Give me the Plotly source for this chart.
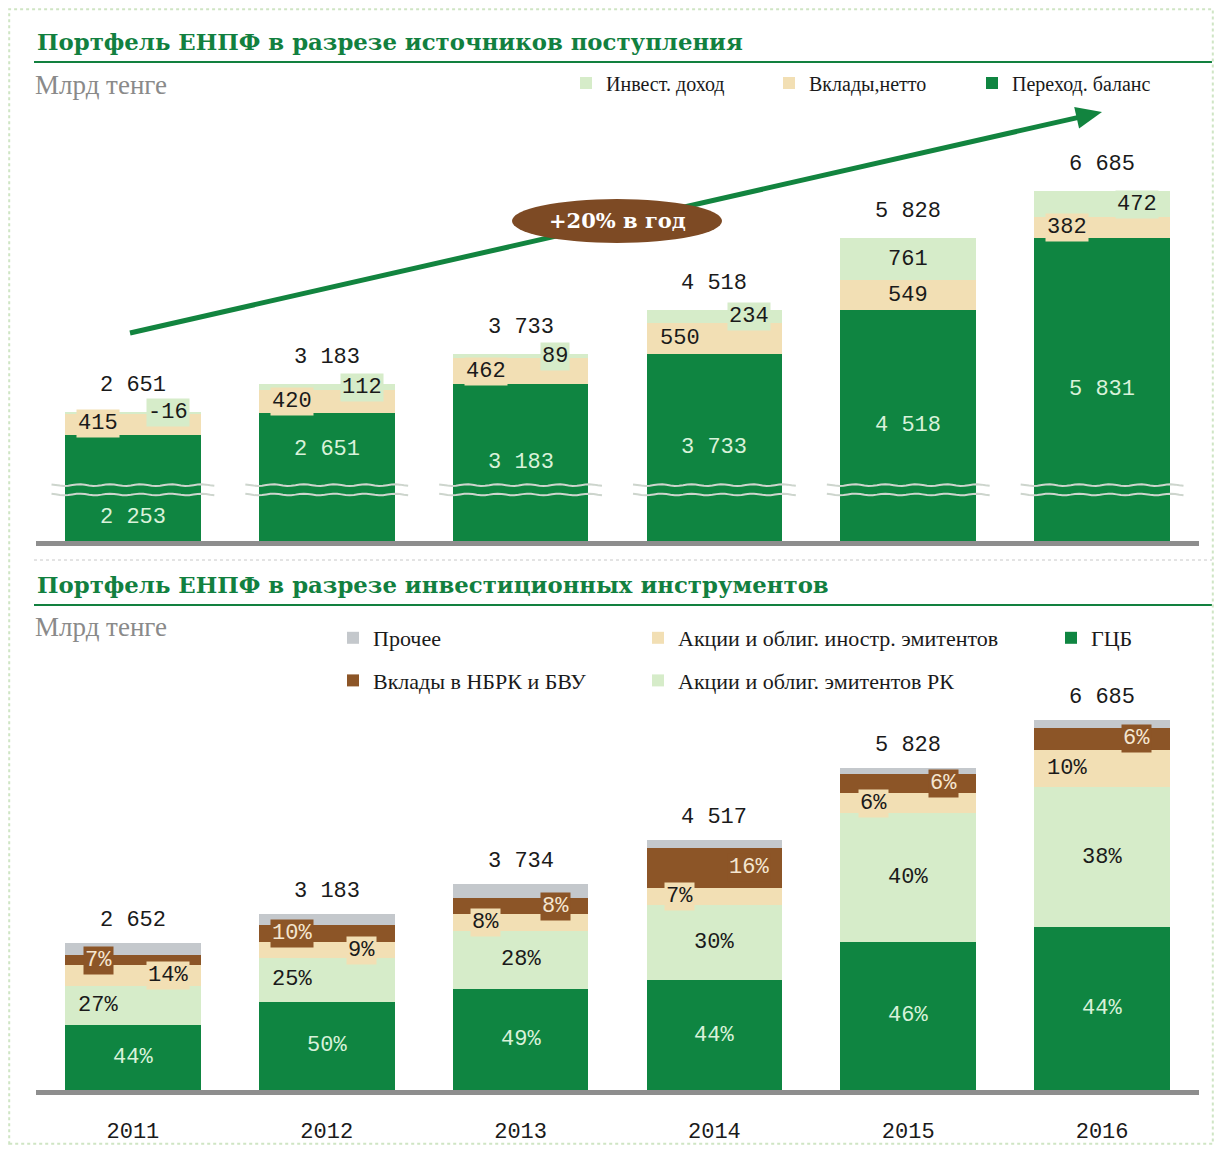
import plotly.graph_objects as go
import numpy as np

# ---------------- DATA ----------------
years = [2011, 2012, 2013, 2014, 2015, 2016]
year_labels = ["2011", "2012", "2013", "2014", "2015", "2016"]

# Top chart: portfolio by source (bn tenge)
carry_balance = [2253, 2651, 3183, 3733, 4518, 5831]   # Переход. баланс
net_contrib = [415, 420, 462, 550, 549, 382]           # Вклады, нетто
invest_income = [-16, 112, 89, 234, 761, 472]          # Инвест. доход
top_totals = [2651, 3183, 3733, 4518, 5828, 6685]

# Bottom chart: portfolio by instrument (share, %)
bottom_totals = [2652, 3183, 3734, 4517, 5828, 6685]
pct_gcb = [44, 50, 49, 44, 46, 44]          # ГЦБ
pct_rk = [27, 25, 28, 30, 40, 38]           # Акции и облиг. эмитентов РК
pct_foreign = [14, 9, 8, 7, 6, 10]          # Акции и облиг. иностр. эмитентов
pct_deposits = [7, 10, 8, 16, 6, 6]         # Вклады в НБРК и БВУ
pct_other = [8, 6, 7, 3, 2, 2]              # Прочее

# ---------------- STYLE ----------------
OFF = 8                       # browser body margin
W, H = 1222 - 2 * OFF, 1153 - 2 * OFF
C_GREEN = "#0f8541"
C_BEIGE = "#f2dfb4"
C_LGREEN = "#d6ecc9"
C_BROWN = "#8c5527"
C_GRAY = "#c4c8cc"
C_TITLE = "#12803f"
C_ARROW = "#12843f"
NUM_FONT = "Liberation Mono"
SERIF = "Liberation Serif"
NUM_SIZE = 22

# label horizontal placement (-1 left, 0 centre, 1 right)
side_net = [-1, -1, -1, -1, 0, -1]
side_inv = [1, 1, 1, 1, 0, 1]
side_rk = [-1, -1, 0, 0, 0, 0]
side_for = [1, 1, -1, -1, -1, -1]
side_dep = [-1, -1, 1, 1, 1, 1]
OFFS = 0.18


def py(pix):
    return 1 - (pix - OFF) / H


def px(pix):
    return (pix - OFF) / W


TOP_DOM = [py(541), py(100)]
BOT_DOM = [py(1090), py(690)]
X_DOM = [px(36), px(1199)]
TOP_RANGE = [330, 8340]
BOT_RANGE = [0, 7233]
BREAK_LO, BREAK_HI = 1175, 1345   # axis-break marks on the top chart

fig = go.Figure()

# ---- top bars ----
for name, vals, col, rank in [("Переход. баланс", carry_balance, C_GREEN, 3),
                              ("Вклады,нетто", net_contrib, C_BEIGE, 2),
                              ("Инвест. доход", invest_income, C_LGREEN, 1)]:
    fig.add_trace(go.Bar(x=years, y=vals, name=name, marker=dict(color=col, line=dict(width=0)),
                         width=0.7, xaxis="x", yaxis="y", legend="legend", legendrank=rank,
                         hoverinfo="x+y+name"))

# ---- bottom bars ----
bottom_series = [
    ("ГЦБ", pct_gcb, C_GREEN, "legend4", 1),
    ("Акции и облиг. эмитентов РК", pct_rk, C_LGREEN, "legend3", 2),
    ("Акции и облиг. иностр. эмитентов", pct_foreign, C_BEIGE, "legend3", 1),
    ("Вклады в НБРК и БВУ", pct_deposits, C_BROWN, "legend2", 2),
    ("Прочее", pct_other, C_GRAY, "legend2", 1),
]
bottom_abs = {}
for name, pct, col, leg, rank in bottom_series:
    vals = [t * p / 100 for t, p in zip(bottom_totals, pct)]
    bottom_abs[name] = vals
    fig.add_trace(go.Bar(x=years, y=vals, name=name, marker=dict(color=col, line=dict(width=0)),
                         width=0.7, xaxis="x2", yaxis="y2", legend=leg, legendrank=rank,
                         legendgroup=name, customdata=pct,
                         hovertemplate="%{x}: %{customdata}%<extra>" + name + "</extra>"))

ann = []


def fmt(v):
    s = f"{abs(v):,}".replace(",", " ")
    return ("-" if v < 0 else "") + s


# ---- top labels ----
for i, yr in enumerate(years):
    g, n, inv = carry_balance[i], net_contrib[i], invest_income[i]
    mid = (TOP_RANGE[0] + g) / 2
    if 1000 < mid < 1600:
        if g < 2500:
            mid = (TOP_RANGE[0] + BREAK_LO) / 2
        else:
            mid = (BREAK_HI + g) / 2
    ann.append(dict(x=yr, y=mid, xref="x", yref="y", text=fmt(g), showarrow=False,
                    font=dict(family=NUM_FONT, size=NUM_SIZE, color="#d9f2da")))
    ann.append(dict(x=yr + side_net[i] * OFFS, y=g + n / 2, xref="x", yref="y", text=fmt(n),
                    showarrow=False, bgcolor=C_BEIGE, borderpad=1,
                    font=dict(family=NUM_FONT, size=NUM_SIZE, color="#1a1a1a")))
    ann.append(dict(x=yr + side_inv[i] * OFFS, y=g + n + max(inv, 0) / 2,
                    xref="x", yref="y", text=fmt(inv), showarrow=False, bgcolor=C_LGREEN, borderpad=1,
                    font=dict(family=NUM_FONT, size=NUM_SIZE, color="#1a1a1a")))
    ann.append(dict(x=yr, y=max(g + n, g + n + inv), xref="x", yref="y", text=fmt(top_totals[i]),
                    showarrow=False, yanchor="bottom", yshift=12,
                    font=dict(family=NUM_FONT, size=NUM_SIZE, color="#1a1a1a")))

# ---- bottom labels ----
pcts = {"ГЦБ": pct_gcb, "Акции и облиг. эмитентов РК": pct_rk,
        "Акции и облиг. иностр. эмитентов": pct_foreign, "Вклады в НБРК и БВУ": pct_deposits}
for i, yr in enumerate(years):
    cum = 0
    layers = [("ГЦБ", 0, None, "#d9f2da"),
              ("Акции и облиг. эмитентов РК", side_rk[i], C_LGREEN, "#1a1a1a"),
              ("Акции и облиг. иностр. эмитентов", side_for[i], C_BEIGE, "#1a1a1a"),
              ("Вклады в НБРК и БВУ", side_dep[i], C_BROWN, "#f5e6d0")]
    for name, side, bg, fc in layers:
        v = bottom_abs[name][i]
        d = dict(x=yr + side * OFFS, y=cum + v / 2, xref="x2", yref="y2",
                 text=f"{pcts[name][i]}%", showarrow=False,
                 font=dict(family=NUM_FONT, size=NUM_SIZE, color=fc))
        if bg:
            d.update(bgcolor=bg, borderpad=1)
        ann.append(d)
        cum += v
    ann.append(dict(x=yr, y=bottom_totals[i], xref="x2", yref="y2", text=fmt(bottom_totals[i]),
                    showarrow=False, yanchor="bottom", yshift=8,
                    font=dict(family=NUM_FONT, size=NUM_SIZE, color="#1a1a1a")))

# ---- titles / units ----
for txt, ypix in [("Портфель ЕНПФ в разрезе источников поступления", 42),
                  ("Портфель ЕНПФ в разрезе инвестиционных инструментов", 585)]:
    ann.append(dict(x=px(35), y=py(ypix), xref="paper", yref="paper", text=f"<b>{txt}</b>",
                    showarrow=False, xanchor="left", yanchor="middle",
                    font=dict(family="DejaVu Serif", size=22.8, color=C_TITLE)))
for ypix in [85, 627]:
    ann.append(dict(x=px(33), y=py(ypix), xref="paper", yref="paper", text="Млрд тенге",
                    showarrow=False, xanchor="left", yanchor="middle",
                    font=dict(family=SERIF, size=27, color="#8a8a8a")))

# ---- growth label text ----
ann.append(dict(x=px(617), y=py(221), xref="paper", yref="paper", text="<b>+20% в год</b>",
                showarrow=False, xanchor="center", yanchor="middle",
                font=dict(family="DejaVu Serif", size=21, color="white")))

shapes = []
# growth arrow (shaft + head) drawn as shapes so the ellipse can sit on top
x0a, y0a, x1a, y1a = 130, 333, 1102, 112
ang = np.arctan2(y1a - y0a, x1a - x0a)
hl, hw = 26, 11
bx, by = x1a - hl * np.cos(ang), y1a - hl * np.sin(ang)
shapes.append(dict(type="line", xref="paper", yref="paper", x0=px(x0a), y0=py(y0a),
                   x1=px(bx + 2 * np.cos(ang)), y1=py(by + 2 * np.sin(ang)),
                   line=dict(color=C_ARROW, width=5), layer="above"))
p1 = (bx - hw * np.sin(ang), by + hw * np.cos(ang))
p2 = (bx + hw * np.sin(ang), by - hw * np.cos(ang))
head = f"M {px(x1a):.5f},{py(y1a):.5f} L {px(p1[0]):.5f},{py(p1[1]):.5f} L {px(p2[0]):.5f},{py(p2[1]):.5f} Z"
shapes.append(dict(type="path", xref="paper", yref="paper", path=head, fillcolor=C_ARROW,
                   line=dict(width=0), layer="above"))
# ellipse
shapes.append(dict(type="circle", xref="paper", yref="paper", x0=px(512), x1=px(722),
                   y0=py(243), y1=py(199), fillcolor="#7d4a24", line=dict(width=0), layer="above"))
# green title rules
for ypix in [62, 605]:
    shapes.append(dict(type="line", xref="paper", yref="paper", x0=px(34), x1=px(1212),
                       y0=py(ypix), y1=py(ypix), line=dict(color=C_TITLE, width=2)))
# dotted separator between panels
shapes.append(dict(type="line", xref="paper", yref="paper", x0=px(34), x1=px(1212),
                   y0=py(560), y1=py(560), line=dict(color="#c8c8c8", width=1, dash="dot")))
# outer dotted frame
shapes.append(dict(type="rect", xref="paper", yref="paper", x0=0.001, x1=0.999,
                   y0=0.001, y1=0.999, line=dict(color="#cfe5c4", width=2, dash="dot")))
# axis break wavy lines on top chart
for yr in years:
    xs = np.linspace(yr - 0.42, yr + 0.42, 40)
    for base in (BREAK_HI, BREAK_LO):
        ys = base + 15 * np.sin((xs - yr) * 40)
        path = "M " + " L ".join(f"{a:.4f},{b:.1f}" for a, b in zip(xs, ys))
        shapes.append(dict(type="path", xref="x", yref="y", path=path,
                           line=dict(color="#cdd5cd", width=2), layer="above"))

leg_common = dict(xanchor="left", bgcolor="rgba(0,0,0,0)")
fig.update_layout(
    width=W, height=H, margin=dict(l=0, r=0, t=0, b=0, autoexpand=False),
    paper_bgcolor="white", plot_bgcolor="white",
    barmode="stack", bargap=0.3,
    showlegend=True,
    annotations=ann, shapes=shapes,
    xaxis=dict(domain=X_DOM, anchor="y", range=[2010.5, 2016.5], showticklabels=False,
               showgrid=False, zeroline=False, showline=True, linecolor="#8e8e8e", linewidth=5,
               ticks=""),
    yaxis=dict(domain=TOP_DOM, anchor="x", range=TOP_RANGE, visible=False, showgrid=False),
    xaxis2=dict(domain=X_DOM, anchor="y2", range=[2010.5, 2016.5], tickvals=years,
                ticktext=year_labels, showgrid=False, zeroline=False, showline=True,
                linecolor="#8e8e8e", linewidth=5, ticks="", ticklabelstandoff=17,
                tickfont=dict(family=NUM_FONT, size=NUM_SIZE, color="#1a1a1a")),
    yaxis2=dict(domain=BOT_DOM, anchor="x2", range=BOT_RANGE, visible=False, showgrid=False),
    legend=dict(orientation="h", x=px(566), y=py(83), yanchor="middle",
                entrywidth=158, traceorder="normal",
                font=dict(family=SERIF, size=20, color="#1a1a1a"), **leg_common),
    legend2=dict(orientation="v", x=px(333), y=py(617), yanchor="top",
                 tracegroupgap=11, font=dict(family=SERIF, size=22, color="#1a1a1a"), **leg_common),
    legend3=dict(orientation="v", x=px(638), y=py(617), yanchor="top",
                 tracegroupgap=11, font=dict(family=SERIF, size=22, color="#1a1a1a"), **leg_common),
    legend4=dict(orientation="v", x=px(1051), y=py(617), yanchor="top",
                 tracegroupgap=11, font=dict(family=SERIF, size=22, color="#1a1a1a"), **leg_common),
)

fig.write_html("out.html", config={"displayModeBar": False})
